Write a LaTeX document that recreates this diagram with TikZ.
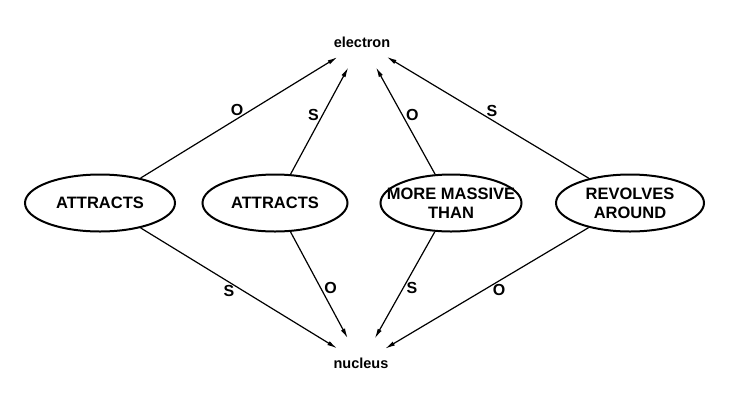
\documentclass[tikz,border=0pt]{standalone}
\usepackage{fontspec}
\setmainfont{Liberation Sans}
\usetikzlibrary{arrows.meta,positioning,shapes.geometric}

\begin{document}
\begin{tikzpicture}[x=1pt,y=-1pt,>={Latex[length=10pt,width=4.5pt]}]
\tikzstyle{rel}=[draw,ellipse,line width=2pt,inner sep=0pt,minimum width=148pt,minimum height=57pt,align=center,font=\fontsize{16.5}{19}\selectfont\bfseries]
\tikzstyle{term}=[circle,inner sep=0pt,font=\fontsize{14.5}{17}\selectfont\bfseries]
\tikzstyle{link}=[->,line width=1.2pt]
\tikzstyle{role}=[inner sep=3pt,font=\fontsize{16}{18}\selectfont\bfseries]
\useasboundingbox (0,0) rectangle (738,397);
\node[term] (electron) at (362,42) {electron};
\node[term] (nucleus) at (361,363) {nucleus};
\node[rel,minimum width=150pt] (attr1) at (100,203) {ATTRACTS};
\node[rel,minimum width=145pt] (attr2) at (275,203) {ATTRACTS};
\node[rel,minimum width=141pt,inner xsep=-16pt] (massive) at (451,203) {MORE MASSIVE\\THAN};
\node[rel] (revolves) at (630,203) {REVOLVES\\AROUND};
% upper links
\draw[link] (attr1) -- node[role,pos=0.49,above] {O} (electron);
\draw[link] (attr2) -- node[role,pos=0.55,left] {S} (electron);
\draw[link] (massive) -- node[role,pos=0.55,right] {O} (electron);
\draw[link] (revolves) -- node[role,pos=0.48,above] {S} (electron);
% lower links
\draw[link] (attr1) -- node[role,pos=0.45,below] {S} (nucleus);
\draw[link] (attr2) -- node[role,pos=0.53,right] {O} (nucleus);
\draw[link] (massive) -- node[role,pos=0.53,right] {S} (nucleus);
\draw[link] (revolves) -- node[role,pos=0.44,below] {O} (nucleus);
\end{tikzpicture}
\end{document}
